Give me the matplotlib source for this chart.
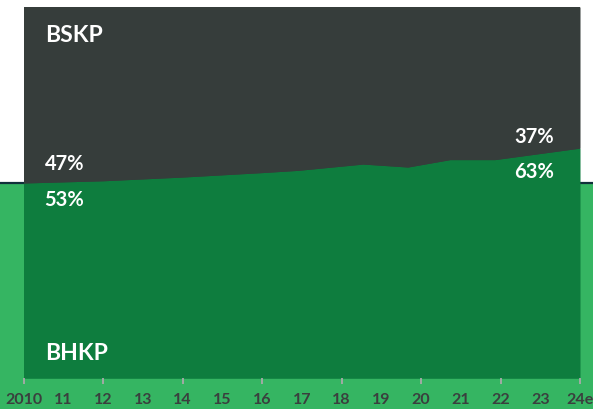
import numpy as np
import matplotlib.pyplot as plt
from matplotlib.patches import Rectangle
from matplotlib.lines import Line2D

# share of BHKP (%) over time, the rest is BSKP
years = [2010, 2012, 2014, 2016, 2016.9, 2018.54, 2019.67, 2020.73, 2021.86, 2024]
bhkp = [52.6, 53.2, 54.2, 55.4, 56.0, 57.7, 56.9, 58.9, 58.9, 62.0]
tick_years = list(range(2010, 2025))
tick_labels = ['2010', '11', '12', '13', '14', '15', '16', '17', '18', '19',
               '20', '21', '22', '23', '24e']

dark = '#363d3b'
green = '#0e7d3e'
light = '#35b562'

plt.rcParams['font.family'] = ['Lato', 'DejaVu Sans']

fig = plt.figure(figsize=(5.93, 4.09), dpi=100)
fig.patch.set_facecolor('white')
W, H = 593, 409
line_y = 1 - 182.5 / H
fig.patches.append(Rectangle((0, 0), 1, line_y, transform=fig.transFigure,
                             color=light, zorder=0))
fig.lines.append(Line2D([0, 1], [line_y, line_y], transform=fig.transFigure,
                        color='#10303a', lw=1.6, zorder=1))

ax = fig.add_axes([23.5 / W, (H - 378.3) / H, (580 - 23.5) / W, 371.3 / H])
ax.set_zorder(3)
ax.set_facecolor(dark)
yrs = np.array(years)
vals = np.array(bhkp)
ax.fill_between(yrs, 0, vals, color=green, lw=0)
ax.fill_between(yrs, vals, 100, color=dark, lw=0)
ax.set_xlim(2010, 2024)
ax.set_ylim(0, 100)
for s in ax.spines.values():
    s.set_visible(False)
ax.set_yticks([])

ax.set_xticks(tick_years[::2])
ax.set_xticklabels(tick_labels[::2])
ax.set_xticks(tick_years[1::2], minor=True)
ax.set_xticklabels(tick_labels[1::2], minor=True)
ax.tick_params(axis='x', which='major', length=4.5, width=1.3, color='#a9a9a9',
               pad=6, labelsize=11.5, labelcolor='#3a3f3e')
ax.tick_params(axis='x', which='minor', length=4.5, width=0, pad=6,
               labelsize=11.5, labelcolor='#3a3f3e')
for lab in ax.get_xticklabels(which='both'):
    lab.set_fontweight('bold')

txt = dict(color='white', fontweight='bold', transform=ax.transAxes, va='center')
ax.text(0.038, 0.924, 'BSKP', fontsize=16.5, **txt)
ax.text(0.038, 0.067, 'BHKP', fontsize=16.5, **txt)
ax.text(0.038, 0.578, '47%', fontsize=14.5, **txt)
ax.text(0.038, 0.481, '53%', fontsize=14.5, **txt)
ax.text(0.882, 0.651, '37%', fontsize=14.5, **txt)
ax.text(0.882, 0.556, '63%', fontsize=14.5, **txt)

fig.savefig('out.png', dpi=100)
